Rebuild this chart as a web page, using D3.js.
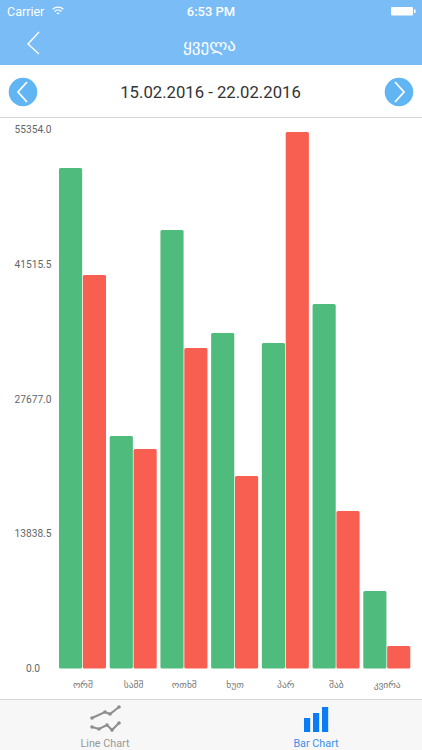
<!DOCTYPE html>
<html>
<head>
<meta charset="utf-8">
<script src="https://cdnjs.cloudflare.com/ajax/libs/d3/7.8.5/d3.min.js"></script>
<style>
  html, body { margin: 0; padding: 0; background: #fff; overflow: hidden; }
  svg { display: block; }
  text { font-family: Roboto, "DejaVu Sans", sans-serif; }
</style>
</head>
<body>
<svg id="chart"></svg>
<script>
const width = 422;
const height = 750;

const days = ["ორშ", "სამშ", "ოთხშ", "ხუთ", "პარ", "შაბ", "კვირა"];
const greenValues = [51350, 23860, 45000, 34420, 33400, 37400, 7950];
const redValues = [40370, 22520, 32880, 19750, 55050, 16160, 2310];
const yTicks = [0, 13838.5, 27677, 41515.5, 55354];
const seriesNames = ["green", "red"];

const blue = "#79bcf6";
const colors = { green: "#4fbb7c", red: "#f95f50" };

const svg = d3.select("#chart")
  .attr("width", width)
  .attr("height", height);

/* ---------------------------
Header
--------------------------- */

svg.append("rect")
  .attr("width", width)
  .attr("height", 65)
  .attr("fill", blue);

svg.append("text").attr("x", 7).attr("y", 15.5).attr("font-size", 12.5)
  .attr("fill", "#fff").text("Carrier");

// wifi arcs
const wifiArc = d3.arc().startAngle(-0.75).endAngle(0.75);
svg.append("g").attr("transform", "translate(58,15)")
  .selectAll("path")
  .data([8.5, 5.5, 2.5])
  .enter()
  .append("path")
  .attr("d", r => wifiArc({ innerRadius: r - 1.3, outerRadius: r }))
  .attr("fill", "#fff");

svg.append("text").attr("x", 211).attr("y", 15.5).attr("text-anchor", "middle")
  .attr("font-size", 13).attr("font-weight", 500).attr("fill", "#fff").text("6:53 PM");

svg.append("rect").attr("x", 391).attr("y", 7).attr("width", 22).attr("height", 8.5)
  .attr("rx", 1).attr("fill", "#fff");
svg.append("rect").attr("x", 414).attr("y", 9.5).attr("width", 1.5).attr("height", 3.5)
  .attr("fill", "#fff");

svg.append("path").attr("d", "M39,32L28,44L39,54")
  .attr("fill", "none").attr("stroke", "#fff").attr("stroke-width", 1.4);

svg.append("text").attr("x", 209.5).attr("y", 51).attr("text-anchor", "middle")
  .attr("font-size", 17).attr("fill", "#fff")
  .style("font-family", "'DejaVu Sans'").text("ყველა");

/* ---------------------------
Date row
--------------------------- */

svg.append("text").attr("x", 210.5).attr("y", 97.5).attr("text-anchor", "middle")
  .attr("font-size", 16.7).attr("fill", "#333").text("15.02.2016 - 22.02.2016");

const buttons = svg.selectAll("g.nav")
  .data([{ x: 23, d: "M4,-10L-5,0L4,10" }, { x: 399, d: "M-4,-10L5,0L-4,10" }])
  .enter()
  .append("g")
  .attr("class", "nav")
  .attr("transform", d => `translate(${d.x},92)`);

buttons.append("circle").attr("r", 14.3).attr("fill", "#62b5f3");
buttons.append("path").attr("d", d => d.d)
  .attr("fill", "none").attr("stroke", "#fff").attr("stroke-width", 1.8);

svg.append("line").attr("x1", 0).attr("x2", width).attr("y1", 117.5).attr("y2", 117.5)
  .attr("stroke", "#d6d6d6");

/* ---------------------------
Scales and axes
--------------------------- */

const x = d3.scaleBand().domain(days).range([59, 414]);
const xInner = d3.scaleBand().domain(seriesNames).range([0, 47]).paddingInner(0.03);
const y = d3.scaleLinear().domain([0, 55354]).range([668.5, 129]);

const yAxis = svg.append("g")
  .attr("transform", "translate(33,0)")
  .call(d3.axisLeft(y).tickValues(yTicks).tickFormat(d => d.toFixed(1)).tickSize(0));
yAxis.select(".domain").remove();
yAxis.selectAll("text")
  .attr("x", 0)
  .attr("text-anchor", "middle")
  .attr("font-size", 10.2)
  .attr("fill", "#666")
  .style("font-family", "Roboto");

const xAxis = svg.append("g")
  .attr("transform", "translate(-1.5,678)")
  .call(d3.axisBottom(x).tickSize(0));
xAxis.select(".domain").remove();
xAxis.selectAll("text")
  .attr("y", 3)
  .attr("font-size", 9.5)
  .attr("fill", "#777")
  .style("font-family", "'DejaVu Sans'");

/* ---------------------------
Bars
--------------------------- */

const series = [
  { name: "green", values: greenValues },
  { name: "red", values: redValues }
];

series.forEach(s => {
  svg.append("g").selectAll("rect")
    .data(s.values)
    .enter()
    .append("rect")
    .attr("x", (d, i) => x(days[i]) + xInner(s.name))
    .attr("y", d => y(d))
    .attr("width", xInner.bandwidth())
    .attr("height", d => y(0) - y(d))
    .attr("rx", 1.5)
    .attr("fill", colors[s.name]);
});

/* ---------------------------
Tab bar
--------------------------- */

svg.append("rect").attr("y", 699).attr("width", width).attr("height", 51).attr("fill", "#f7f7f7");
svg.append("line").attr("x1", 0).attr("x2", width).attr("y1", 699.5).attr("y2", 699.5)
  .attr("stroke", "#d8d8d8");

const lineIcons = [
  [[92, 718], [105, 712], [110, 714], [119, 707]],
  [[92, 727], [99, 729], [107, 725], [112, 730], [119, 723]]
];
const iconLine = d3.line();

lineIcons.forEach(pts => {
  svg.append("path").attr("d", iconLine(pts))
    .attr("fill", "none").attr("stroke", "#8e8e8e").attr("stroke-width", 2);
  svg.append("g").selectAll("circle")
    .data(pts)
    .enter()
    .append("circle")
    .attr("cx", d => d[0])
    .attr("cy", d => d[1])
    .attr("r", 1.8)
    .attr("fill", "#8e8e8e");
});

svg.append("g").selectAll("rect")
  .data([[304, 718], [313, 713], [322, 707]])
  .enter()
  .append("rect")
  .attr("x", d => d[0])
  .attr("y", d => d[1])
  .attr("width", 6.2)
  .attr("height", d => 732 - d[1])
  .attr("fill", "#0a7cf5");

svg.append("text").attr("x", 105).attr("y", 746.5).attr("text-anchor", "middle")
  .attr("font-size", 10.8).attr("fill", "#979797").text("Line Chart");
svg.append("text").attr("x", 316).attr("y", 746.5).attr("text-anchor", "middle")
  .attr("font-size", 10.8).attr("fill", "#3a90e8").text("Bar Chart");
</script>
</body>
</html>
